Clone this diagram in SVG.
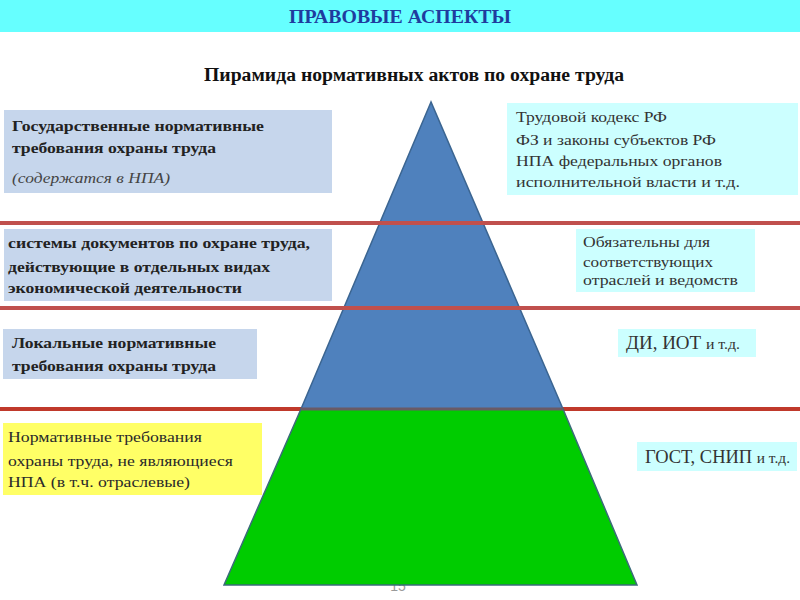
<svg xmlns="http://www.w3.org/2000/svg" width="800" height="600" viewBox="0 0 800 600">
<style>
.b{font-family:"Liberation Serif","DejaVu Serif",serif;font-weight:bold;font-size:15px;fill:#222}
.i{font-family:"Liberation Serif","DejaVu Serif",serif;font-style:italic;font-size:15px;fill:#444}
.n{font-family:"Liberation Serif","DejaVu Serif",serif;font-size:15px;fill:#2a2a2a}
.r{font-family:"Liberation Serif","DejaVu Serif",serif;font-size:15px;fill:#333}
.lb{fill:#c6d6ec}
.cy{fill:#ccffff}
.red{stroke:#c0504d;stroke-width:4}
</style>
<rect x="0" y="0" width="800" height="600" fill="#ffffff"/>
<g id="header">
<rect x="0" y="0" width="800" height="32" fill="#66ffff"/>
<text x="400" y="23" text-anchor="middle" font-family="Liberation Serif,serif" font-weight="bold" font-size="18" fill="#1f3c9e" textLength="222" lengthAdjust="spacingAndGlyphs">ПРАВОВЫЕ АСПЕКТЫ</text>
</g>
<g id="subtitle">
<text x="414" y="81" text-anchor="middle" font-family="Liberation Serif,serif" font-weight="bold" font-size="18" fill="#111" textLength="420" lengthAdjust="spacingAndGlyphs">Пирамида нормативных актов по охране труда</text>
</g>
<text x="398" y="591" text-anchor="middle" font-family="Liberation Sans,sans-serif" font-size="14" fill="#9a9a9a">15</text>
<g id="line3">
<line x1="0" y1="409" x2="800" y2="409" stroke="#c0392b" stroke-width="4"/>
</g>
<g id="pyramid">
<polygon points="431,102 301,409 563,409" fill="#4f81bd" stroke="#3b6591" stroke-width="1.5"/>
<polygon points="301,409 563,409 637,585 224,585" fill="#00cc00" stroke="#3b6b7a" stroke-width="1.5"/>
<line x1="301" y1="409" x2="563" y2="409" stroke="#6a5a66" stroke-width="3"/>
</g>
<g id="connectors">
<line class="red" x1="0" y1="223" x2="800" y2="223"/>
<line class="red" x1="0" y1="308" x2="800" y2="308"/>
</g>
<g id="left1">
<rect class="lb" x="4" y="110" width="328" height="83"/>
<text class="b" x="12" y="131" textLength="252" lengthAdjust="spacingAndGlyphs">Государственные нормативные</text>
<text class="b" x="12" y="153" textLength="204" lengthAdjust="spacingAndGlyphs">требования охраны труда</text>
<text class="i" x="12" y="183" textLength="158" lengthAdjust="spacingAndGlyphs">(содержатся в НПА)</text>
</g>
<g id="left2">
<rect class="lb" x="4" y="229" width="328" height="72"/>
<text class="b" x="8" y="248" textLength="302" lengthAdjust="spacingAndGlyphs">системы документов по охране труда,</text>
<text class="b" x="8" y="272" textLength="262" lengthAdjust="spacingAndGlyphs">действующие в отдельных видах</text>
<text class="b" x="8" y="293" textLength="234" lengthAdjust="spacingAndGlyphs">экономической деятельности</text>
</g>
<g id="left3">
<rect class="lb" x="3" y="329" width="254" height="50"/>
<text class="b" x="12" y="348" textLength="204" lengthAdjust="spacingAndGlyphs">Локальные нормативные</text>
<text class="b" x="12" y="371" textLength="204" lengthAdjust="spacingAndGlyphs">требования охраны труда</text>
</g>
<g id="left4">
<rect x="3" y="423" width="259" height="72" fill="#ffff66"/>
<text class="n" x="8" y="442" textLength="194" lengthAdjust="spacingAndGlyphs">Нормативные требования</text>
<text class="n" x="8" y="466" textLength="225" lengthAdjust="spacingAndGlyphs">охраны труда, не являющиеся</text>
<text class="n" x="8" y="487" textLength="182" lengthAdjust="spacingAndGlyphs">НПА (в т.ч. отраслевые)</text>
</g>
<g id="right1">
<rect class="cy" x="507" y="103" width="291" height="92"/>
<text class="r" x="516" y="122" textLength="151" lengthAdjust="spacingAndGlyphs">Трудовой кодекс РФ</text>
<text class="r" x="516" y="145" textLength="200" lengthAdjust="spacingAndGlyphs">ФЗ и законы субъектов РФ</text>
<text class="r" x="516" y="166" textLength="206" lengthAdjust="spacingAndGlyphs">НПА федеральных органов</text>
<text class="r" x="516" y="187" textLength="224" lengthAdjust="spacingAndGlyphs">исполнительной власти  и т.д.</text>
</g>
<g id="right2">
<rect class="cy" x="576" y="229" width="179" height="63"/>
<text class="r" x="583" y="247" textLength="127" lengthAdjust="spacingAndGlyphs">Обязательны для</text>
<text class="r" x="583" y="267" textLength="130" lengthAdjust="spacingAndGlyphs">соответствующих</text>
<text class="r" x="583" y="285" textLength="155" lengthAdjust="spacingAndGlyphs">отраслей и ведомств</text>
</g>
<g id="right3">
<rect class="cy" x="618" y="329" width="138" height="28"/>
<text class="r" x="626" y="349" style="font-size:18px" textLength="114" lengthAdjust="spacingAndGlyphs">ДИ, ИОТ <tspan style="font-size:15px">и т.д.</tspan></text>
</g>
<g id="right4">
<rect class="cy" x="637" y="442" width="160" height="29"/>
<text class="r" x="645" y="463" style="font-size:18px" textLength="145" lengthAdjust="spacingAndGlyphs">ГОСТ, СНИП <tspan style="font-size:15px">и т.д.</tspan></text>
</g>
</svg>
